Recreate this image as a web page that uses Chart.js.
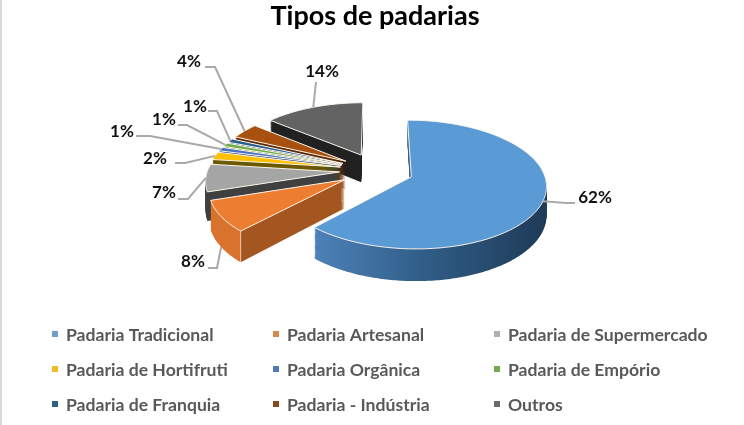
<!DOCTYPE html>
<html>
<head>
<meta charset="utf-8">
<script src="https://cdn.jsdelivr.net/npm/chart.js@4/dist/chart.umd.min.js"></script>
<style>
  body { margin: 0; background: #fff; }
  canvas { display: block; }
  #edge { position: absolute; left: 0; top: 0; width: 2px; height: 425px; background: #d9d9d9; }
</style>
</head>
<body>
<div id="edge"></div>
<canvas id="chart" width="744" height="425"></canvas>
<script>
const categories = [
  'Padaria Tradicional', 'Padaria Artesanal', 'Padaria de Supermercado',
  'Padaria de Hortifruti', 'Padaria Orgânica', 'Padaria de Empório',
  'Padaria de Franquia', 'Padaria - Indústria', 'Outros'
];
const percentages = [62, 8, 7, 2, 1, 1, 1, 4, 14];

const topColors = ['#5b9bd5', '#ed7d31', '#a5a5a5', '#ffc000', '#4472c4', '#70ad47', '#255e91', '#a8500f', '#636363'];
const sideColors = ['#2f5b85', '#a3561f', '#404040', '#6b5a00', '#29457a', '#47702c', '#163a5a', '#5f2b08', '#222222'];
const legendColors = ['#6f9fc9', '#d58a4f', '#b0b0b0', '#eebb22', '#4f7ab8', '#75a850', '#2f5f85', '#8a4a20', '#6a6a6a'];

// label centre x/y, leader elbow x/y, end of the short horizontal stub
const labelX = [595, 193, 164, 155, 122, 164, 195, 189, 322];
const labelY = [198, 262, 193, 159, 132, 120, 107, 62, 72];
const elbowX = [566, 217, 188, 185, 150, 187, 217, 215, 316];
const elbowY = [203, 268, 199, 163, 136, 125, 111, 67, 82];
const stubX = [575, 208, 178, 175, 136, 178, 208, 205, 316];

// 3d view of the pie
const centerX = 376.5, centerY = 170.3;
const tilt = 0.469, persp = 0.0009, explode = 37, depth = 28, pieRadius = 132;

function project(u, v, z) {
  const w = 1 / (1 - persp * v);
  return { x: centerX + u * w, y: centerY + tilt * v * w + z * w };
}

// hands the arc's own path to the canvas through the perspective projection
function projectedCtx(ctx, arc, z) {
  const mid = (arc.startAngle + arc.endAngle) / 2;
  const ox = explode * Math.cos(mid) - arc.x;
  const oy = explode * Math.sin(mid) - arc.y;
  const put = (x, y) => {
    const p = project(x + ox, y + oy, z);
    ctx.lineTo(p.x, p.y);
  };
  return new Proxy(ctx, {
    get(t, prop) {
      if (prop === 'moveTo' || prop === 'lineTo') return put;
      if (prop === 'arc') {
        return (x, y, r, a0, a1) => {
          const n = Math.max(1, Math.ceil(Math.abs(a1 - a0) * r / 2));
          for (let i = 0; i <= n; i++) {
            const a = a0 + (a1 - a0) * i / n;
            put(x + r * Math.cos(a), y + r * Math.sin(a));
          }
        };
      }
      const val = t[prop];
      return typeof val === 'function' ? val.bind(t) : val;
    },
    set(t, prop, val) {
      t[prop] = val;
      return true;
    }
  });
}

function rimPoint(arc, z) {
  const mid = (arc.startAngle + arc.endAngle) / 2;
  return project((explode + pieRadius) * Math.cos(mid), (explode + pieRadius) * Math.sin(mid), z);
}

function sideFill(ctx, arc, i) {
  if (i === 0) {
    const g = ctx.createLinearGradient(315, 0, 545, 0);
    g.addColorStop(0, '#4c82b8');
    g.addColorStop(0.5, '#2f5b85');
    g.addColorStop(1, '#1f3b57');
    return g;
  }
  if (i === 1) {
    // rim left of the front corner, cut face right of it
    const mid = (arc.startAngle + arc.endAngle) / 2;
    const cx = project(explode * Math.cos(mid) + pieRadius * Math.cos(arc.startAngle),
                       explode * Math.sin(mid) + pieRadius * Math.sin(arc.startAngle), 0).x;
    const g = ctx.createLinearGradient(200, 0, 345, 0);
    const s = (cx - 200) / 145;
    g.addColorStop(0, '#d8722c');
    g.addColorStop(s - 0.006, '#d8722c');
    g.addColorStop(s, '#f6d9bd');
    g.addColorStop(s + 0.006, '#a3561f');
    g.addColorStop(1, '#a3561f');
    return g;
  }
  return sideColors[i];
}

const pie3d = {
  id: 'pie3d',
  beforeDatasetsDraw(chart) {
    const ctx = chart.ctx;
    const arcs = chart.getDatasetMeta(0).data;

    // far slices first, so nearer ones cover them
    for (let i = arcs.length - 1; i >= 0; i--) {
      const arc = arcs[i];
      const opts = arc.options;
      arc.options = Object.assign({}, opts, { backgroundColor: sideFill(ctx, arc, i), borderWidth: 0 });
      for (let z = depth; z > 0; z--) arc.draw(projectedCtx(ctx, arc, z));
      arc.options = opts;
      arc.draw(projectedCtx(ctx, arc, 0));
    }

    // leader lines and percent labels
    ctx.save();
    arcs.forEach((arc, i) => {
      const mid = (arc.startAngle + arc.endAngle) / 2;
      const p = rimPoint(arc, Math.sin(mid) > 0.5 ? depth : 0);
      ctx.strokeStyle = '#a9a9a9';
      ctx.lineWidth = 2;
      ctx.beginPath();
      ctx.moveTo(p.x, p.y);
      ctx.lineTo(elbowX[i], elbowY[i]);
      ctx.lineTo(stubX[i], elbowY[i]);
      ctx.stroke();
    });
    ctx.fillStyle = '#111';
    ctx.font = 'bold 17px Lato';
    ctx.textAlign = 'center';
    ctx.textBaseline = 'middle';
    percentages.forEach((val, i) => ctx.fillText(val + '%', labelX[i], labelY[i]));
    ctx.restore();
    return false;
  },
  afterDraw(chart) {
    // legend in three fixed columns
    const ctx = chart.ctx;
    const colX = [66, 287, 508];
    const rowY = [335, 370, 405];
    ctx.save();
    ctx.font = 'bold 17.6px Lato';
    ctx.textBaseline = 'middle';
    categories.forEach((name, i) => {
      const x = colX[i % 3], y = rowY[Math.floor(i / 3)];
      ctx.fillStyle = legendColors[i];
      ctx.fillRect(x - 14, y - 4, 6, 6);
      ctx.fillStyle = '#595959';
      ctx.fillText(name, x, y);
    });
    ctx.restore();
  }
};

new Chart(document.getElementById('chart'), {
  type: 'pie',
  data: {
    labels: categories,
    datasets: [{
      data: percentages,
      backgroundColor: topColors,
      borderColor: '#fdf6ec',
      borderWidth: 1,
      radius: pieRadius
    }]
  },
  options: {
    responsive: false,
    animation: false,
    layout: { padding: { left: 6 } },
    plugins: {
      legend: { display: false },
      tooltip: { enabled: false },
      title: {
        display: true,
        text: 'Tipos de padarias',
        color: '#000',
        font: { family: 'Lato', size: 27, weight: 'bold' },
        padding: { top: 0, bottom: 8 }
      }
    }
  },
  plugins: [pie3d]
});
</script>
</body>
</html>
